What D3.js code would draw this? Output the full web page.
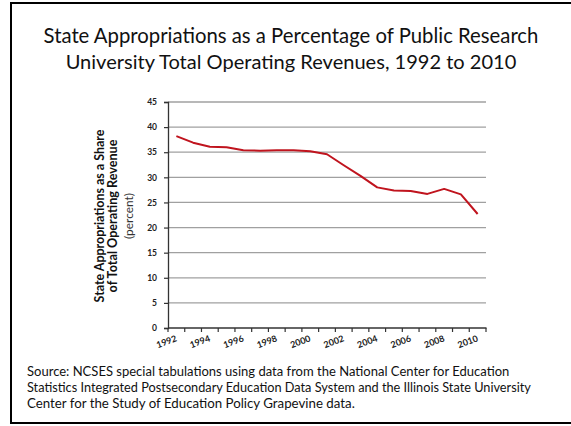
<!DOCTYPE html>
<html><head><meta charset="utf-8">
<script src="https://cdn.jsdelivr.net/npm/d3@7"></script>
<style>body{margin:0;background:#fff}svg{display:block}</style>
</head><body>
<svg id="c" width="571" height="426"></svg>
<script>
const years = [1992,1993,1994,1995,1996,1997,1998,1999,2000,2001,2002,2003,2004,2005,2006,2007,2008,2009,2010];
const share = [38.2,36.9,36.1,36.0,35.4,35.3,35.4,35.4,35.2,34.6,32.4,30.3,28.0,27.4,27.3,26.7,27.7,26.6,22.7];
const yTicks = [0,5,10,15,20,25,30,35,40,45];
const xLabels = [1992,1994,1996,1998,2000,2002,2004,2006,2008,2010];
const titleLines = ["State Appropriations as a Percentage of Public Research","University Total Operating Revenues, 1992 to 2010"];
const yTitle = ["State Appropriations as a Share","of Total Operating Revenue"];
const yUnit = "(percent)";
const sourceLines = ["Source: NCSES special tabulations using data from the National Center for Education",
 "Statistics Integrated Postsecondary Education Data System and the Illinois State University",
 "Center for the Study of Education Policy Grapevine data."];

const svg = d3.select("#c");
const font = "Lato, 'Open Sans', sans-serif";

function fit(sel, w){
  const n = sel.node(); const fs = parseFloat(sel.attr("font-size"));
  const cur = n.getComputedTextLength();
  if(cur>0) sel.attr("font-size", (fs*w/cur).toFixed(2));
}

// frame
svg.append("rect").attr("x",11).attr("y",3).attr("width",580).attr("height",420)
  .attr("fill","none").attr("stroke","#000").attr("stroke-width",2);

// title
const tw=[495,451];
titleLines.forEach((t,i)=>{
  const s=svg.append("text").attr("x",291).attr("y",43+i*26).attr("text-anchor","middle")
   .attr("font-family",font).attr("font-size",20).attr("fill","#111").text(t);
  fit(s,tw[i]);
});

const x = d3.scaleBand().domain(years).range([168,486]);
const y = d3.scaleLinear().domain([0,45]).range([328,102]);

// gridlines
svg.append("g").selectAll("line").data(yTicks.filter(d=>d>0)).join("line")
  .attr("x1",168).attr("x2",486).attr("y1",d=>y(d)).attr("y2",d=>y(d))
  .attr("stroke","#a0a0a0").attr("stroke-width",1.3);

// y axis
const ya = svg.append("g").attr("transform","translate(168,0)")
  .call(d3.axisLeft(y).tickValues(yTicks).tickSize(4).tickPadding(7));
ya.select(".domain").attr("stroke","#333").attr("stroke-width",1.3);
ya.selectAll(".tick line").attr("stroke","#333").attr("stroke-width",1.2);
ya.selectAll("text").attr("font-family",font).attr("font-weight","bold").attr("font-size",8.5).attr("fill","#222");

// x axis
const xa = svg.append("g").attr("transform","translate(0,328)");
xa.append("line").attr("x1",168).attr("x2",486.5).attr("stroke","#333").attr("stroke-width",1.3);
const bounds = years.map(d=>x(d)).concat([x(years[years.length-1])+x.bandwidth()]);
xa.selectAll("line.t").data(bounds).join("line").attr("class","t")
  .attr("x1",d=>d).attr("x2",d=>d).attr("y1",0).attr("y2",4).attr("stroke","#333").attr("stroke-width",1.2);
xa.selectAll("text").data(xLabels).join("text")
  .attr("transform",d=>`translate(${x(d)+x.bandwidth()/2+1},${13}) rotate(-20)`)
  .attr("text-anchor","end").attr("font-family",font).attr("font-weight","bold")
  .attr("font-size",9).attr("fill","#222").text(d=>d);

// line
svg.append("path").datum(years.map((d,i)=>[d,share[i]]))
  .attr("d",d3.line().x(d=>x(d[0])+x.bandwidth()/2).y(d=>y(d[1])))
  .attr("fill","none").attr("stroke","#c0141e").attr("stroke-width",2).attr("stroke-linejoin","round");

// y title
const yt = svg.append("g").attr("transform","translate(0,216) rotate(-90)");
const ytw=[173,153];
yTitle.forEach((t,i)=>{
  const s=yt.append("text").attr("x",0).attr("y",104+i*12.5).attr("text-anchor","middle")
   .attr("font-family",font).attr("font-weight","bold").attr("font-size",10).attr("fill","#111").text(t);
  fit(s,ytw[i]);
});
const pu=yt.append("text").attr("x",0).attr("y",133).attr("text-anchor","middle")
  .attr("font-family",font).attr("font-size",10).attr("fill","#333").text(yUnit);
fit(pu,46);

// source
const sw=[483,504,328];
sourceLines.forEach((t,i)=>{
  const s=svg.append("text").attr("x",27).attr("y",376+i*16).attr("font-family",font)
   .attr("font-size",12).attr("fill","#111").text(t);
  fit(s,sw[i]);
});
</script>
</body></html>
